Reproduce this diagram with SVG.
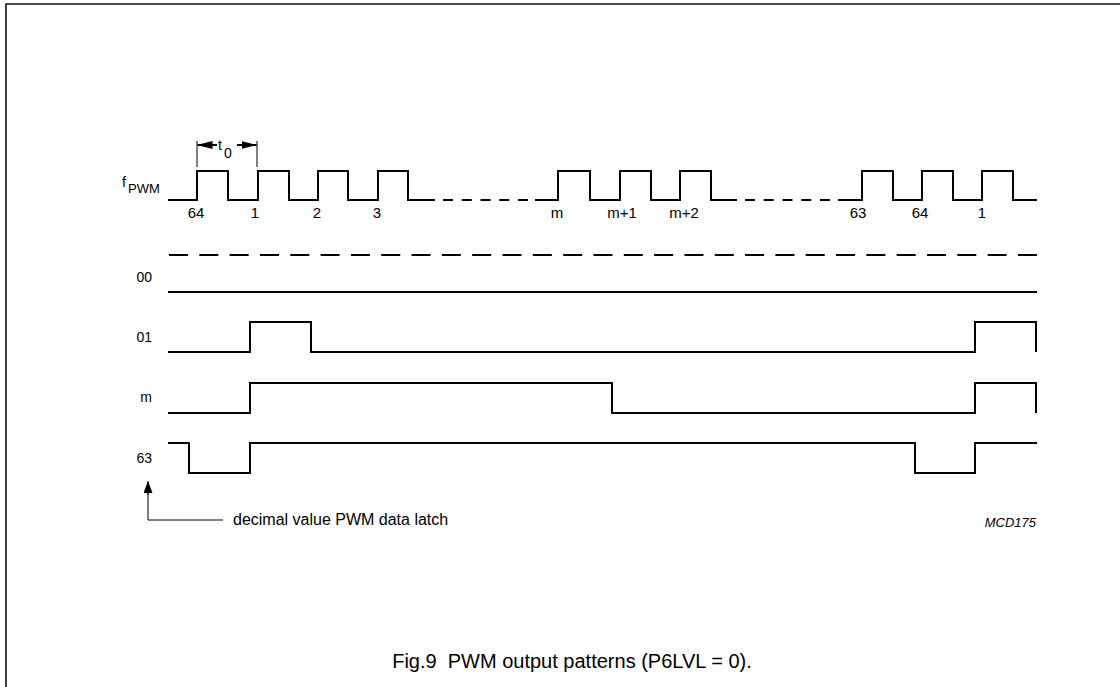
<svg xmlns="http://www.w3.org/2000/svg" width="1120" height="687" viewBox="0 0 1120 687">
<defs>
<style>
.sig{fill:none;stroke:#000;stroke-width:2;stroke-linejoin:miter;stroke-linecap:butt}
.thin{fill:none;stroke:#000;stroke-width:1}
.frame{fill:none;stroke:#111;stroke-width:1.6}
.t{font-family:"Liberation Sans",Arial,sans-serif;fill:#000}
.lab{font-size:14px}
.num{font-size:15px;text-anchor:middle}
</style>
<marker id="ah" markerWidth="15" markerHeight="8" refX="15" refY="4" orient="auto" markerUnits="userSpaceOnUse">
<path d="M0,0 L15,4 L0,8 Z" fill="#000"/>
</marker>
<marker id="ahs" markerWidth="12" markerHeight="9" refX="12" refY="4.5" orient="auto" markerUnits="userSpaceOnUse">
<path d="M0,0 L12,4.5 L0,9 Z" fill="#000"/>
</marker>
</defs>
<rect width="1120" height="687" fill="#fff"/>
<path class="frame" d="M6,687 V4 H1120"/>

<g id="fpwm">
<text class="t" x="122" y="187" font-size="14">f</text>
<text class="t" x="128" y="193" font-size="13">PWM</text>
<path class="sig" d="M168,200 H197 V171 H228 V200 H258 V171 H289 V200 H318 V171 H348 V200 H378 V171 H408 V200 H435"/>
<line class="sig" x1="443" y1="200" x2="528" y2="200" stroke-dasharray="10 8.75"/>
<path class="sig" d="M535,200 H558 V171 H590 V200 H620 V171 H651 V200 H680 V171 H711 V200 H737"/>
<line class="sig" x1="745" y1="200" x2="830" y2="200" stroke-dasharray="10 8.75"/>
<path class="sig" d="M838,200 H862 V171 H893 V200 H922 V171 H953 V200 H982 V171 H1013 V200 H1037"/>
<text class="t num" x="196" y="218">64</text>
<text class="t num" x="255" y="218">1</text>
<text class="t num" x="317" y="218">2</text>
<text class="t num" x="377" y="218">3</text>
<text class="t num" x="557" y="218">m</text>
<text class="t num" x="622" y="218">m+1</text>
<text class="t num" x="684" y="218">m+2</text>
<text class="t num" x="858" y="218">63</text>
<text class="t num" x="920" y="218">64</text>
<text class="t num" x="982" y="218">1</text>
</g>

<g id="t0">
<line class="thin" x1="197" y1="141" x2="197" y2="167"/>
<line class="thin" x1="257" y1="141" x2="257" y2="167"/>
<line class="sig" x1="217" y1="145" x2="197.5" y2="145" marker-end="url(#ah)"/>
<line class="sig" x1="237" y1="145" x2="256.5" y2="145" marker-end="url(#ah)"/>
<text class="t" x="218" y="150" font-size="14">t</text>
<text class="t" x="224" y="158" font-size="14">0</text>
</g>

<line id="separator" class="sig" x1="169" y1="255" x2="1037" y2="255" stroke-dasharray="19 11.32"/>

<g id="row00">
<text class="t lab" x="152" y="282" text-anchor="end">00</text>
<path class="sig" d="M168,292 H1037"/>
</g>
<g id="row01">
<text class="t lab" x="152" y="342" text-anchor="end">01</text>
<path class="sig" d="M168,352 H250 V322 H311 V352 H975 V322 H1036 V352"/>
</g>
<g id="rowm">
<text class="t lab" x="152" y="402" text-anchor="end">m</text>
<path class="sig" d="M168,413 H250 V383 H612 V413 H975 V383 H1036 V413"/>
</g>
<g id="row63">
<text class="t lab" x="152" y="463" text-anchor="end">63</text>
<path class="sig" d="M168,443 H189 V473 H250 V443 H915 V473 H975 V443 H1037"/>
</g>

<g id="connectors">
<path class="thin" d="M223,520 H148 V492" />
<line class="thin" x1="148" y1="495" x2="148" y2="481" marker-end="url(#ahs)"/>
</g>
<g id="latch-label">
<text class="t" x="233" y="525" font-size="16">decimal value PWM data latch</text>
</g>
<text class="t" x="1036" y="527" font-size="13" font-style="italic" text-anchor="end">MCD175</text>
<text class="t" x="572" y="668" font-size="20" text-anchor="middle" xml:space="preserve">Fig.9  PWM output patterns (P6LVL = 0).</text>
</svg>
